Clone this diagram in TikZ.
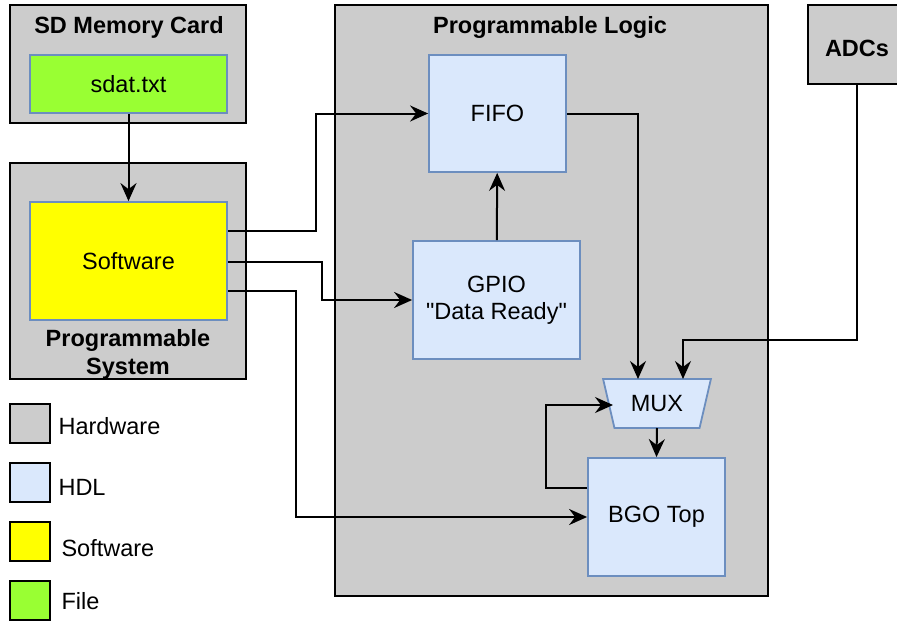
\documentclass[tikz,border=0pt]{standalone}
\usepackage{fontspec}
\newfontfamily\diagfont{Liberation Sans}
\usetikzlibrary{arrows.meta,shapes.geometric}
\definecolor{hwgray}{HTML}{CCCCCC}
\definecolor{hdlblue}{HTML}{DAE8FC}
\definecolor{hdlline}{HTML}{6C8EBF}
\definecolor{swyellow}{HTML}{FFFF00}
\definecolor{filegreen}{HTML}{99FF33}

\begin{document}
\begin{tikzpicture}[x=1pt, y=-1pt,
    every node/.style={font=\diagfont\fontsize{23.5}{27}\selectfont},
    hw/.style={draw, line width=2.2pt, fill=hwgray, inner sep=0pt},
    hdl/.style={draw=hdlline, line width=1.8pt, fill=hdlblue, inner sep=0pt, align=center},
    title/.style={font=\diagfont\fontsize{23.5}{28}\selectfont\bfseries, align=center},
    arr/.style={-{Stealth[length=18pt,width=16pt,inset=6pt]}, line width=2pt}]
  \useasboundingbox (0,0) rectangle (897,621);

  % outer hardware blocks
  \node[hw, minimum width=236pt, minimum height=118pt] (sd) at (128, 64) {};
  \node[title] (sdtitle) at (129, 27) {SD Memory Card};
  \node[hw, minimum width=236pt, minimum height=216pt] (ps) at (128, 271) {};
  \node[title] (pstitle) at (128, 354) {Programmable\\System};
  \node[hw, minimum width=433pt, minimum height=591pt] (pl) at (551.5, 300.5) {};
  \node[title] (pltitle) at (550, 27) {Programmable Logic};
  \node[hw, minimum width=98pt, minimum height=79pt] (adc) at (857, 44.5) {};
  \node[title] (adctitle) at (857, 48) {ADCs};

  % file and software
  \node[draw=hdlline, line width=1.8pt, fill=filegreen, minimum width=197pt, minimum height=58pt] (sdat) at (128.5, 84) {sdat.txt};
  \node[draw=hdlline, line width=1.8pt, fill=swyellow, minimum width=197pt, minimum height=118pt] (sw) at (128.5, 261) {Software};

  % HDL blocks
  \node[hdl, minimum width=137pt, minimum height=117pt] (fifo) at (497.5, 113.5) {FIFO};
  \node[hdl, minimum width=167pt, minimum height=118pt] (gpio) at (496.5, 300) {GPIO\\"Data Ready"};
  \node[hdl, trapezium, shape border rotate=180, trapezium left angle=67, trapezium right angle=67,
        trapezium stretches=true, minimum width=108pt, minimum height=49pt] (mux) at (657, 403.5) {MUX};
  \node[hdl, minimum width=137pt, minimum height=118pt] (bgo) at (656.5, 517) {BGO Top};

  \coordinate (adcbend) at (857, 340);

  % connections
  \draw[arr] (sdat) -- (sw);
  \draw[arr] ([yshift=30pt]sw.east) -- ++(88,0) |- (fifo.west);
  \draw[arr] ([yshift=-1pt]sw.east) -- ++(94,0) |- (gpio.west);
  \draw[arr] ([yshift=-30pt]sw.east) -- ++(68,0) |- (bgo.west);
  \draw[arr] (gpio) -- (fifo);
  \draw[arr] (fifo.east) -| ([xshift=-19pt,yshift=24.5pt]mux.center);
  \draw[arr] (adc.south) -- (adcbend) -| ([xshift=26pt,yshift=24.5pt]mux.center);
  \draw[arr] ([yshift=-24.5pt]mux.center) -- (bgo.north);
  \draw[arr] ([yshift=29pt]bgo.west) -- ++(-41,0) |- ([xshift=-44pt,yshift=-1.5pt]mux.center);

  % legend
  \node[hw, fill=hwgray, minimum width=40pt, minimum height=39pt] (keyhw) at (30, 423.5) {};
  \node[anchor=west] (keyhwtext) at (55, 426) {Hardware};
  \node[hw, fill=hdlblue, minimum width=40pt, minimum height=39pt] (keyhdl) at (30, 482.5) {};
  \node[anchor=west] (keyhdltext) at (55, 487) {HDL};
  \node[hw, fill=swyellow, minimum width=40pt, minimum height=39pt] (keysw) at (30, 541.5) {};
  \node[anchor=west] (keyswtext) at (58, 548) {Software};
  \node[hw, fill=filegreen, minimum width=40pt, minimum height=39pt] (keyfile) at (30, 600.5) {};
  \node[anchor=west] (keyfiletext) at (58, 601) {File};
\end{tikzpicture}
\end{document}
